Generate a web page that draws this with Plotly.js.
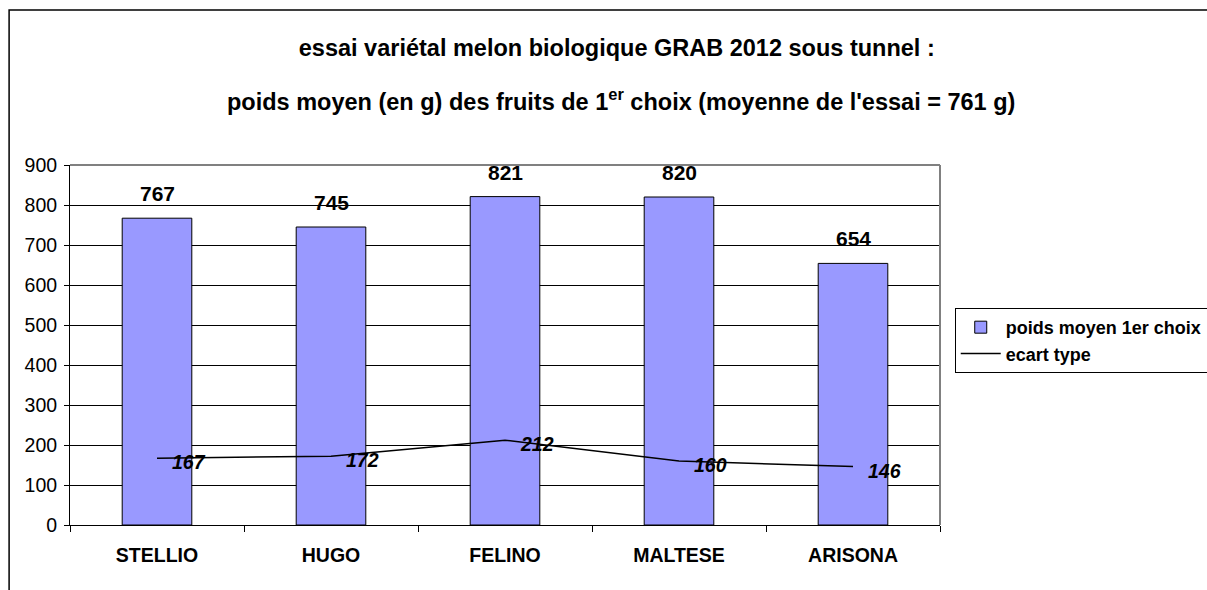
<!DOCTYPE html>
<html>
<head>
<meta charset="utf-8">
<script src="https://cdn.plot.ly/plotly-3.0.1.min.js"></script>
<style>
  body { margin: 0; background: #fff; }
  #meloPlot { width: 1207px; height: 590px; }
</style>
</head>
<body>
<div id="meloPlot"></div>
<script>
let varieties = ["STELLIO", "HUGO", "FELINO", "MALTESE", "ARISONA"];
let poidsMoyen = [767, 745, 821, 820, 654];
let ecartType = [167, 172, 212, 160, 146];

let titleLine1 = "essai variétal melon biologique GRAB 2012 sous tunnel :";
let titleLine2 = "poids moyen (en g) des fruits de 1<sup>er</sup> choix (moyenne de l'essai = 761 g)";

let fontFam = "Liberation Sans, Arial, sans-serif";

function makeMeloPlot(plotDiv) {

  let barTrace = {
    x: varieties,
    y: poidsMoyen,
    name: "poids moyen 1er choix",
    type: "bar",
    width: 0.4,
    marker: {
      color: "#9999ff",
      line: { color: "#000000", width: 1 }
    },
    hoverinfo: "y"
  };

  let lineTrace = {
    x: varieties,
    y: ecartType,
    name: "ecart type",
    type: "scatter",
    mode: "lines",
    line: { color: "#000000", width: 1.5 }
  };

  // value labels above the bars
  let barLabels = varieties.map((v, i) => ({
    x: v,
    y: poidsMoyen[i],
    xref: "x",
    yref: "y",
    yanchor: "bottom",
    yshift: 11,
    showarrow: false,
    text: "<b>" + poidsMoyen[i] + "</b>",
    font: { family: fontFam, size: 21, color: "#000" }
  }));

  // italic labels for the standard deviation line
  let lineLabels = varieties.map((v, i) => ({
    x: v,
    y: ecartType[i],
    xref: "x",
    yref: "y",
    xanchor: "left",
    xshift: 13,
    yshift: -4,
    showarrow: false,
    text: "<b><i>" + ecartType[i] + "</i></b>",
    font: { family: fontFam, size: 19.5, color: "#000" }
  }));

  let layout = {
    width: 1207,
    height: 590,
    paper_bgcolor: "#ffffff",
    plot_bgcolor: "#ffffff",
    font: { family: fontFam, color: "#000" },
    title: {
      text: "<b>" + titleLine1 + "</b>",
      xref: "container",
      yref: "container",
      x: 0.511,
      y: 0.919,
      xanchor: "center",
      yanchor: "middle",
      font: { family: fontFam, size: 23.5, color: "#000" }
    },
    margin: { l: 70, r: 267, t: 165, b: 65 },
    showlegend: true,
    legend: {
      xref: "container",
      yref: "container",
      x: 0.791,
      y: 0.478,
      xanchor: "left",
      yanchor: "top",
      bordercolor: "#000000",
      borderwidth: 1,
      bgcolor: "#ffffff",
      itemwidth: 40,
      tracegroupgap: 0,
      font: { family: fontFam, size: 18, weight: "bold", color: "#000" }
    },
    xaxis: {
      type: "category",
      showline: true,
      linecolor: "#000000",
      linewidth: 1,
      ticks: "outside",
      tickson: "boundaries",
      ticklen: 6,
      tickcolor: "#000000",
      ticklabelstandoff: 13,
      showgrid: false,
      zeroline: false,
      tickfont: { family: fontFam, size: 19.5, weight: "bold", color: "#000" }
    },
    yaxis: {
      range: [0, 900],
      dtick: 100,
      showline: true,
      linecolor: "#000000",
      linewidth: 1,
      ticks: "outside",
      ticklen: 5,
      tickcolor: "#000000",
      ticklabelstandoff: 3,
      showgrid: true,
      gridcolor: "#000000",
      gridwidth: 1,
      zeroline: false,
      tickfont: { family: fontFam, size: 19.5, color: "#000" }
    },
    annotations: [
      {
        xref: "paper",
        yref: "paper",
        x: 0.633,
        y: 1.181,
        xanchor: "center",
        yanchor: "middle",
        showarrow: false,
        text: "<b>" + titleLine2 + "</b>",
        font: { family: fontFam, size: 23.5, color: "#000" }
      }
    ].concat(barLabels, lineLabels),
    shapes: [
      // outer chart frame
      {
        type: "rect",
        xref: "paper",
        yref: "paper",
        x0: -0.07,
        x1: 2,
        y0: -1,
        y1: 1.4306,
        line: { color: "#000000", width: 1.5 }
      },
      // grey top and right edges of the plot area
      {
        type: "line",
        xref: "paper",
        yref: "paper",
        x0: 0, x1: 1, y0: 1, y1: 1,
        line: { color: "#808080", width: 2 }
      },
      {
        type: "line",
        xref: "paper",
        yref: "paper",
        x0: 1, x1: 1, y0: 0, y1: 1,
        line: { color: "#808080", width: 2 }
      }
    ]
  };

  let config = { responsive: false, displayModeBar: false };

  Plotly.newPlot(plotDiv, [barTrace, lineTrace], layout, config);
}

makeMeloPlot(document.getElementById("meloPlot"));
</script>
</body>
</html>
